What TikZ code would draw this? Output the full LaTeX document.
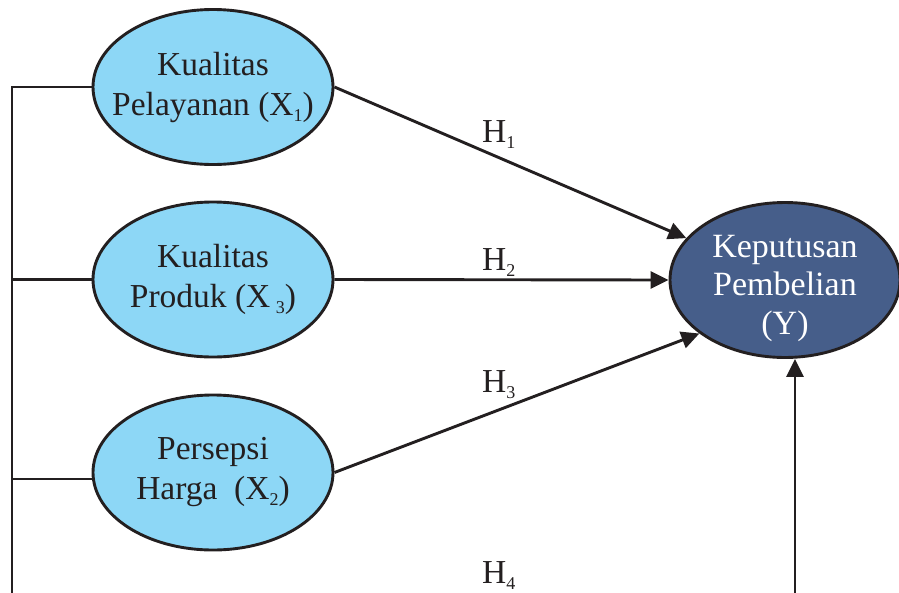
\documentclass[tikz,border=0pt]{standalone}
\usepackage{fontspec}
\setmainfont{Liberation Serif}
\usetikzlibrary{shapes.geometric,arrows.meta}
\definecolor{lightblue}{RGB}{141,215,246}
\definecolor{darkblue}{RGB}{70,94,138}
\definecolor{ink}{RGB}{35,31,32}
\newcommand{\lowsub}[1]{\raisebox{-6pt}{\fontsize{18}{18}\selectfont #1}}
\tikzset{
  varbox/.style={ellipse,draw=ink,line width=2.9pt,fill=lightblue,minimum width=240pt,minimum height=155pt,inner sep=0pt},
  ybox/.style={ellipse,draw=ink,line width=2.9pt,fill=darkblue,minimum width=230pt,minimum height=155pt,inner sep=0pt},
  vartext/.style={inner sep=0pt,align=center,text=ink,font=\fontsize{33.5}{40}\selectfont},
  ytext/.style={inner sep=0pt,align=center,text=white,font=\fontsize{34}{38.5}\selectfont},
  conn/.style={draw=ink,line width=2.9pt},
  arr/.style={conn,-{Triangle[length=18pt,width=17pt]}},
  hlab/.style={anchor=base west,inner sep=0pt,text=ink,font=\fontsize{33.5}{40}\selectfont}
}
\begin{document}
\begin{tikzpicture}[x=1pt,y=-1pt]
\useasboundingbox (0,0) rectangle (899,592);
\node[varbox] (e1) at (213,87) {};
\node[varbox] (e2) at (213,279.5) {};
\node[varbox] (e3) at (213,472.5) {};
\node[ybox] (y) at (785,280) {};
\node[vartext] (t1) at (e1.center) {Kualitas\\Pelayanan (X\lowsub{1})};
\node[vartext] (t2) at (e2.center) {Kualitas\\Produk (X\,\lowsub{3})};
\node[vartext] (t3) at (e3.center) {Persepsi\\Harga\ \ (X\lowsub{2})};
\node[ytext] (ty) at ([yshift=-8pt]y.center) {Keputusan\\Pembelian\\(Y)};
\coordinate (l0) at (12,600);
\coordinate (b) at (795,600);
\draw[conn,line join=miter] (e1.west) -| (l0);
\draw[conn] (e2.west) -- (e2.west -| l0);
\coordinate (j3) at (12,479);
\draw[conn] (j3) -- (e3.west |- j3);
\draw[arr] (e1.east) -- (y.157);
\draw[arr] (e2.east) -- (y.west);
\draw[arr] (e3.east) -- (y.212);
\draw[arr] (b) -- (b |- y.south);
\node[hlab] (h1) at (482,142) {H\lowsub{1}};
\node[hlab] (h2) at (482,270) {H\lowsub{2}};
\node[hlab] (h3) at (482,392) {H\lowsub{3}};
\node[hlab] (h4) at (482,583) {H\lowsub{4}};
\end{tikzpicture}
\end{document}
